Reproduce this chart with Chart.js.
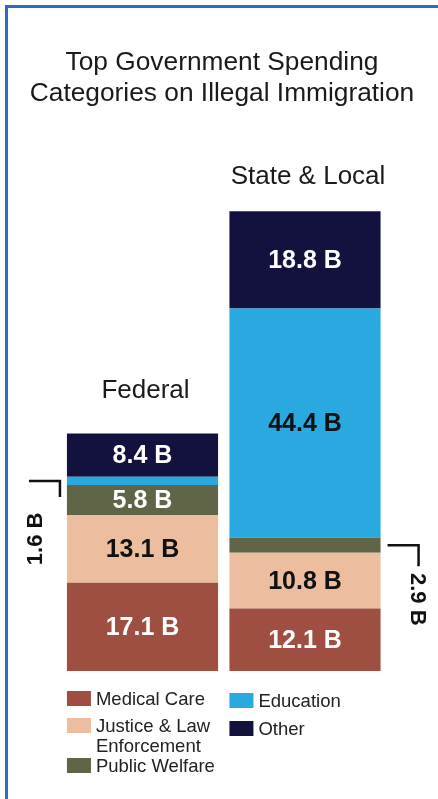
<!DOCTYPE html>
<html><head><meta charset="utf-8">
<script src="https://cdn.jsdelivr.net/npm/chart.js@4.4.1/dist/chart.umd.min.js"></script>
<style>
html,body{margin:0;padding:0;background:#fff;}
#wrap{position:relative;width:438px;height:799px;overflow:hidden;background:#fff;}
#frame{position:absolute;left:5px;top:5px;width:460px;height:820px;border-top:3px solid #2b6cc1;border-left:3px solid #2b6cc1;pointer-events:none;}
canvas{position:absolute;left:0;top:0;}
</style></head><body>
<div id="wrap"><canvas id="c" width="438" height="799"></canvas><div id="frame"></div></div>
<script>
// ---- data ----
const titleLines = ['Top Government Spending', 'Categories on Illegal Immigration'];
const categories = ['Federal', 'State & Local'];
const seriesNames = ['Medical Care', 'Justice & Law Enforcement', 'Public Welfare', 'Education', 'Other'];
const legendLines = [['Medical Care'], ['Justice & Law', 'Enforcement'], ['Public Welfare'], ['Education'], ['Other']];
const medicalCare = [17.1, 12.1];
const justiceLaw = [13.1, 10.8];
const publicWelfare = [5.8, 2.9];
const education = [1.6, 44.4];
const other = [8.4, 18.8];
const unit = ' B';

// ---- styles ----
const colors = ['#9f4e42', '#ecbd9f', '#5f6546', '#2aa8e0', '#13123f'];
const labelColors = ['#ffffff', '#111111', '#ffffff', '#111111', '#ffffff'];
const FONT = '"Liberation Sans", Arial, Helvetica, sans-serif';

const seriesValues = [medicalCare, justiceLaw, publicWelfare, education, other];

const annot = {
  id: 'annot',
  afterDatasetsDraw(chart) {
    const ctx = chart.ctx;
    const area = chart.chartArea;
    ctx.save();
    // title
    ctx.fillStyle = '#1a1a1a';
    ctx.textAlign = 'center';
    ctx.textBaseline = 'alphabetic';
    ctx.font = '26.3px ' + FONT;
    ctx.fillText(titleLines[0], 222, 70);
    ctx.fillText(titleLines[1], 222, 101);

    const nDs = seriesValues.length;
    // category labels above each bar
    const topMeta = chart.getDatasetMeta(nDs - 1);
    const catOffsets = [35, 27];
    categories.forEach((c, j) => {
      const el = topMeta.data[j];
      ctx.font = '26px ' + FONT;
      ctx.fillStyle = '#1a1a1a';
      ctx.fillText(c, el.x + 3, el.y - catOffsets[j]);
    });

    // segment labels / brackets
    for (let i = 0; i < nDs; i++) {
      const meta = chart.getDatasetMeta(i);
      meta.data.forEach((el, j) => {
        const v = seriesValues[i][j];
        const txt = v.toFixed(1) + unit;
        const h = el.base - el.y;
        const midY = (el.y + el.base) / 2;
        if (h > 20) {
          ctx.font = 'bold 25px ' + FONT;
          ctx.fillStyle = labelColors[i];
          ctx.textAlign = 'center';
          ctx.textBaseline = 'middle';
          ctx.fillText(txt, el.x, midY + 1);
        } else {
          ctx.font = 'bold 22px ' + FONT;
          ctx.strokeStyle = '#111';
          ctx.lineWidth = 2.5;
          ctx.fillStyle = '#111';
          ctx.textAlign = 'center';
          ctx.textBaseline = 'middle';
          if (j === 0) {
            const left = el.x - el.width / 2;
            ctx.beginPath();
            ctx.moveTo(left - 38, midY);
            ctx.lineTo(left - 7, midY);
            ctx.lineTo(left - 7, midY + 16);
            ctx.stroke();
            ctx.save();
            ctx.translate(left - 31, midY + 58);
            ctx.rotate(-Math.PI / 2);
            ctx.fillText(txt, 0, 0);
            ctx.restore();
          } else {
            const right = el.x + el.width / 2;
            ctx.beginPath();
            ctx.moveTo(right + 7, midY);
            ctx.lineTo(right + 38, midY);
            ctx.lineTo(right + 38, midY + 21);
            ctx.stroke();
            ctx.save();
            ctx.translate(right + 36, midY + 54);
            ctx.rotate(Math.PI / 2);
            ctx.fillText(txt, 0, 0);
            ctx.restore();
          }
        }
      });
    }

    // legend
    const m0 = chart.getDatasetMeta(0);
    const col1 = m0.data[0].x - m0.data[0].width / 2;
    const col2 = m0.data[1].x - m0.data[1].width / 2;
    const b = area.bottom;
    const legendPos = [
      [col1, b + 20], [col1, b + 47], [col1, b + 87],
      [col2, b + 22], [col2, b + 50]
    ];
    ctx.textAlign = 'left';
    ctx.textBaseline = 'alphabetic';
    ctx.font = '18.5px ' + FONT;
    legendLines.forEach((lines, i) => {
      const [x, y] = legendPos[i];
      ctx.fillStyle = colors[i];
      ctx.fillRect(x, y, 24, 15);
      ctx.fillStyle = '#222';
      lines.forEach((ln, k) => ctx.fillText(ln, x + 29, y + 14 + k * 20));
    });
    ctx.restore();
  }
};

new Chart(document.getElementById('c'), {
  type: 'bar',
  data: {
    labels: categories,
    datasets: seriesValues.map((vals, i) => ({
      label: seriesNames[i],
      data: vals,
      backgroundColor: colors[i],
      borderWidth: 0,
      barPercentage: 0.93,
      categoryPercentage: 1.0
    }))
  },
  options: {
    responsive: false,
    animation: false,
    layout: { padding: { left: 61.25, right: 51.75, top: 154.5, bottom: 128 } },
    scales: {
      x: { stacked: true, display: false },
      y: { stacked: true, display: false, min: 0, max: 100 }
    },
    plugins: { legend: { display: false }, tooltip: { enabled: false }, title: { display: false } }
  },
  plugins: [annot]
});
</script>
</body></html>
